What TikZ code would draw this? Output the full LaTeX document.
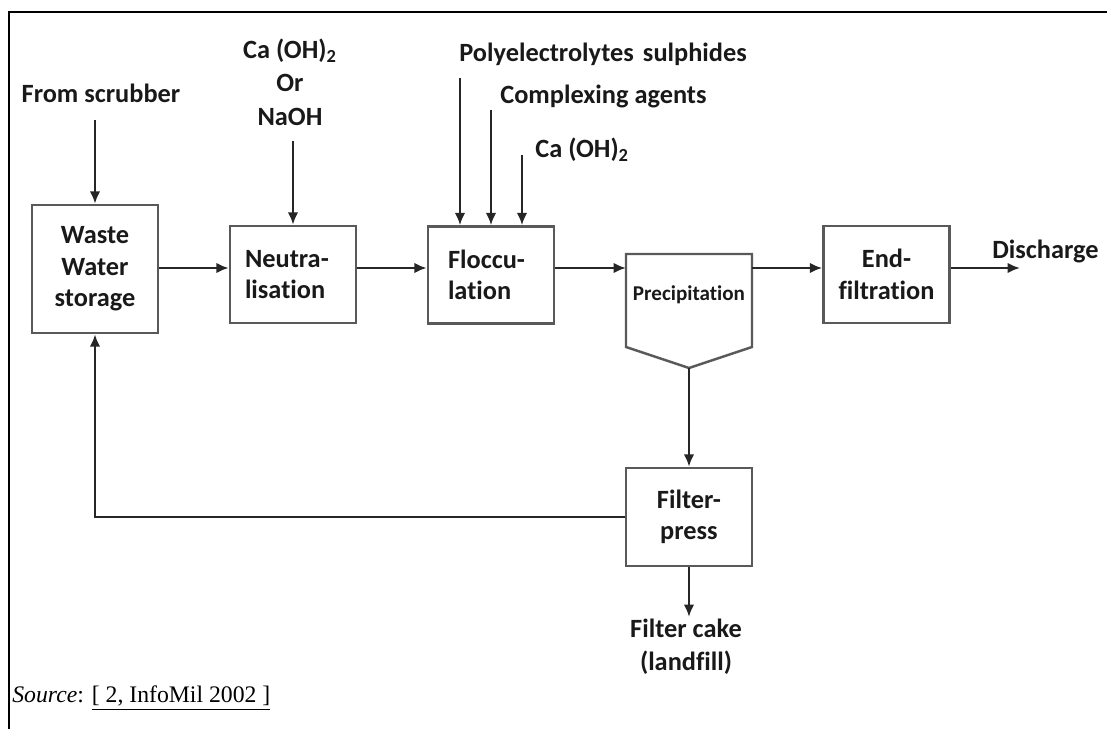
\documentclass[tikz,border=0pt]{standalone}
\usepackage{fontspec}
\setmainfont{Carlito}[Ligatures={NoCommon}]
\newfontfamily\srcfont{Liberation Serif}
\usetikzlibrary{arrows.meta,positioning,calc}
\tikzset{
  box/.style={draw=black!65, line width=1.4pt, minimum width=2.52cm, minimum height=1.94cm,
    font=\bfseries\fontsize{15}{18}\selectfont, text=black!90},
  lbl/.style={inner sep=0pt, font=\bfseries\fontsize{15}{19}\selectfont, text=black!90},
  flow/.style={draw=black!85, line width=1.4pt, -{Latex[length=7pt,width=6pt]}},
}

\begin{document}
\begin{tikzpicture}[x=0.02cm, y=-0.02cm]
  \useasboundingbox (0,0) rectangle (1107,729);
  % 外枠
  \draw[line width=1.7pt] (1107,12) -- (9,12) -- (9,729);

  % 処理槽
  \node[box, minimum height=2.56cm, align=center] (wws) at (95,269) {Waste\\Water\\storage};
  \node[box, align=left, text width=1.92cm, inner xsep=0.3cm] (neut) at (293,274.5) {Neutra-\\lisation};
  \node[box, align=left, text width=1.72cm, inner xsep=0.4cm] (flocc) at (491,275) {Floccu-\\lation};
  \node[box, align=center] (endf) at (886.5,274.5) {End-\\filtration};
  \node[box, align=center, minimum height=1.96cm] (fpress) at (689,517) {Filter-\\press};

  % 沈殿槽
  \draw[draw=black!65, line width=1.4pt] (626,254) -- (752,254) -- (752,347) -- (689,368) -- (626,347) -- cycle;
  \node[lbl, font=\bfseries\fontsize{12}{14}\selectfont] (prec) at (689,295) {Precipitation};
  \coordinate (precW) at (626,268);
  \coordinate (precE) at (752,268);
  \coordinate (precS) at (689,368);

  % 主な流れ
  \coordinate (flow) at (0,268);
  \coordinate (dis) at (1020,268);
  \draw[flow] (wws.east |- flow) -- (neut.west |- flow);
  \draw[flow] (neut.east |- flow) -- (flocc.west |- flow);
  \draw[flow] (flocc.east |- flow) -- (precW);
  \draw[flow] (precE) -- (endf.west |- flow);
  \draw[flow] (endf.east |- flow) -- (dis);
  \node[lbl, anchor=west] (dischg) at (992,251) {Discharge};

  % 汚泥と返送
  \coordinate (cakein) at (689,617);
  \draw[flow] (precS) -- (fpress);
  \draw[flow] (fpress.west) -| (wws.south);
  \draw[flow] (fpress.south) -- (cakein);
  \node[lbl, align=center] (cake) at (686,647) {Filter cake\\(landfill)};

  % 薬品の投入
  \node[lbl] (scrub) at (101,93) {From scrubber};
  \coordinate (scrubin) at (95,120);
  \draw[flow] (scrubin) -- (wws);
  \node[lbl, align=center] (chem1) at (290,82) {Ca (OH)\textsubscript{2}\\Or\\NaOH};
  \coordinate (chem1in) at (293,141);
  \draw[flow] (chem1in) -- (neut);

  \node[lbl, anchor=west] (polyel) at (459,54) {Polyelectrolytes\hspace{0.12em} sulphides};
  \node[lbl, anchor=west] (cplx) at (500,96) {Complexing agents};
  \node[lbl, anchor=west] (caoh) at (535,150) {Ca (OH)\textsubscript{2}};
  \coordinate (f1) at (460,78);
  \coordinate (f2) at (491,110);
  \coordinate (f3) at (522,155);
  \foreach \c in {f1,f2,f3}
    \draw[flow] (\c) -- (\c |- flocc.north);

  % 出典
  \node[anchor=west, inner sep=0pt, font=\srcfont\fontsize{13.5}{16}\selectfont] (src) at (12,698)
    {\textit{Source}: \underline{[ 2, InfoMil 2002 ]}};
\end{tikzpicture}
\end{document}
